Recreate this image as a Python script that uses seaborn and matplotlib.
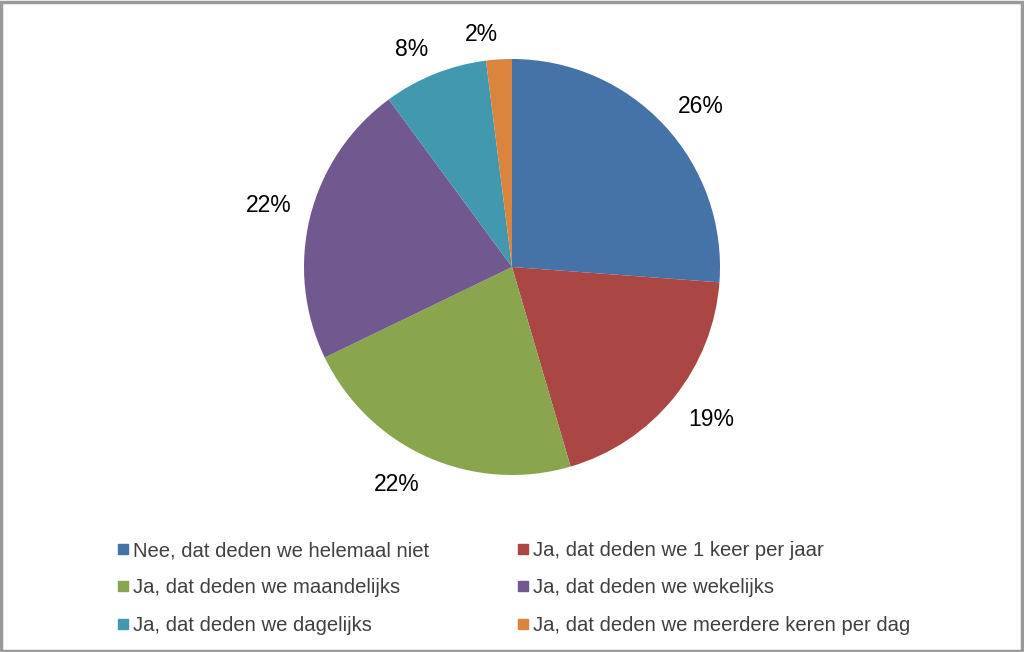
import matplotlib
matplotlib.use("Agg")
import numpy as np
import matplotlib.pyplot as plt
import seaborn as sns
from matplotlib.lines import Line2D
from matplotlib.patches import Rectangle

categories = [
    "Nee, dat deden we helemaal niet",
    "Ja, dat deden we 1 keer per jaar",
    "Ja, dat deden we maandelijks",
    "Ja, dat deden we wekelijks",
    "Ja, dat deden we dagelijks",
    "Ja, dat deden we meerdere keren per dag",
]
values = [26.2, 19.3, 22.4, 22.1, 8.1, 2.0]
colors = ["#4572A7", "#AA4643", "#89A54E", "#71588F", "#4198AF", "#DB843D"]

sns.set_theme(style="white")
plt.rcParams["font.family"] = ["Liberation Sans", "DejaVu Sans"]
palette = sns.color_palette(colors)

label_size = 16.5
fig = plt.figure(figsize=(10.24, 6.52), dpi=100)
W, H = 1024, 652
cx, cy, r = 512, 267, 208
ax = fig.add_axes([(cx - r) / W, (H - cy - r) / H, 2 * r / W, 2 * r / H])
wedges, texts, autotexts = ax.pie(
    values, colors=palette, startangle=90, counterclock=False,
    autopct="%.0f%%", pctdistance=1.2, radius=1,
    wedgeprops=dict(linewidth=0),
    textprops=dict(fontsize=label_size, color="black"),
)
ax.set_xlim(-1, 1)
ax.set_ylim(-1, 1)

# spreadsheet-style placement: the label box corner nearest the pie sits on a
# circle slightly outside the pie, at the wedge's mid angle
fig.canvas.draw()
renderer = fig.canvas.get_renderer()
px_per_unit = ax.transData.transform((1, 0))[0] - ax.transData.transform((0, 0))[0]
fs_px = label_size * fig.dpi / 72
cap_half = 0.358 * fs_px / px_per_unit
gap = 1.091
for w, t in zip(wedges, autotexts):
    ang = np.deg2rad((w.theta1 + w.theta2) / 2)
    dx, dy = np.cos(ang), np.sin(ang)
    bb = t.get_window_extent(renderer)
    hw = bb.width / 2 / px_per_unit
    x = gap * dx + hw * np.sign(dx)
    y = gap * dy + cap_half * np.sign(dy)
    t.set_position((x, y - cap_half))
    t.set_ha("center")
    t.set_va("baseline")

order = [0, 2, 4, 1, 3, 5]
handles = [Line2D([0], [0], marker="s", linestyle="none", markersize=6.5,
                  markerfacecolor=palette[i], markeredgecolor=palette[i]) for i in order]
labels = [categories[i] for i in order]
leg = fig.legend(handles, labels, ncol=2, loc="upper left",
                 bbox_to_anchor=(107 / W, 1 - 533 / H), frameon=False,
                 fontsize=14.6, handletextpad=0.1, handlelength=0.8,
                 columnspacing=4.2, labelspacing=0.9, borderaxespad=0)
for t in leg.get_texts():
    t.set_color("#404040")

fig.patches.append(Rectangle((0.001, 0.002), 0.997, 0.995, transform=fig.transFigure,
                             fill=False, edgecolor="#9a9a9a", linewidth=2.5))

fig.savefig("out.png", dpi=100)
